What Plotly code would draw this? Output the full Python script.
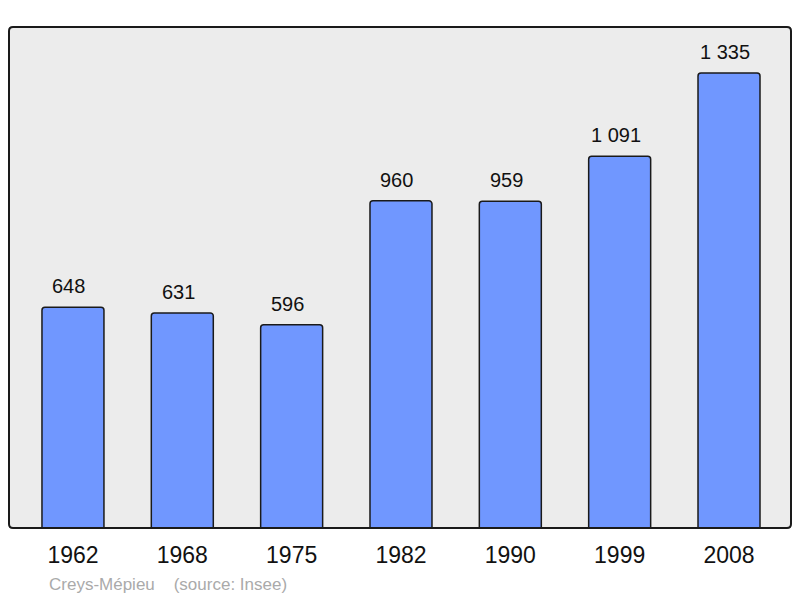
import plotly.graph_objects as go

years = ["1962", "1968", "1975", "1982", "1990", "1999", "2008"]
population = [648, 631, 596, 960, 959, 1091, 1335]
value_labels = ["648", "631", "596", "960", "959", "1 091", "1 335"]

# page body has an 8px margin; figure is sized to fit inside the window
W, H = 792, 590
L, R, T, B = 1, 9, 19, 70
PW, PH = W - L - R, H - T - B

xpos = list(range(len(years)))
FONT = "Liberation Sans, Arial, sans-serif"

fig = go.Figure()
fig.add_trace(go.Bar(
    x=xpos, y=population, width=0.567,
    marker=dict(color="#7097ff", line=dict(color="#1a1a1a", width=1.5), cornerradius=3),
    hoverinfo="skip",
))

for xi, v, t in zip(xpos, population, value_labels):
    fig.add_annotation(x=xi, y=v, text=t, showarrow=False, xanchor="center", yanchor="bottom",
                       yshift=8, xshift=-4, font=dict(size=20, color="#111111", family=FONT))

fig.add_annotation(xref="paper", yref="paper", x=(39 - L) / PW, y=(520 - 576) / PH,
                   xanchor="left", yanchor="middle", showarrow=False,
                   text="Creys-Mépieu\u00a0\u00a0\u00a0\u00a0(source: Insee)",
                   font=dict(size=17, color="#aaaaaa", family=FONT))

# rounded frame
rx, ry = 4 / PW, 4 / PH
path = (f"M {rx},0 L {1-rx},0 Q 1,0 1,{ry} L 1,{1-ry} Q 1,1 {1-rx},1 L {rx},1 Q 0,1 0,{1-ry} "
        f"L 0,{ry} Q 0,0 {rx},0 Z")
fig.add_shape(type="path", xref="paper", yref="paper", path=path,
              line=dict(color="#1a1a1a", width=2), layer="above")

fig.update_layout(
    width=W, height=H,
    margin=dict(l=L, r=R, t=T, b=B),
    paper_bgcolor="white", plot_bgcolor="#ececec",
    showlegend=False,
    font=dict(family=FONT),
    xaxis=dict(range=[-0.585, 6.567], tickvals=xpos, ticktext=years, showgrid=False, zeroline=False,
               ticks="", tickfont=dict(size=23, color="#111111"), ticklabelstandoff=11, fixedrange=True),
    yaxis=dict(range=[0, 1470], showgrid=False, zeroline=False, showticklabels=False, ticks="",
               fixedrange=True),
)

fig.write_html("out.html")
